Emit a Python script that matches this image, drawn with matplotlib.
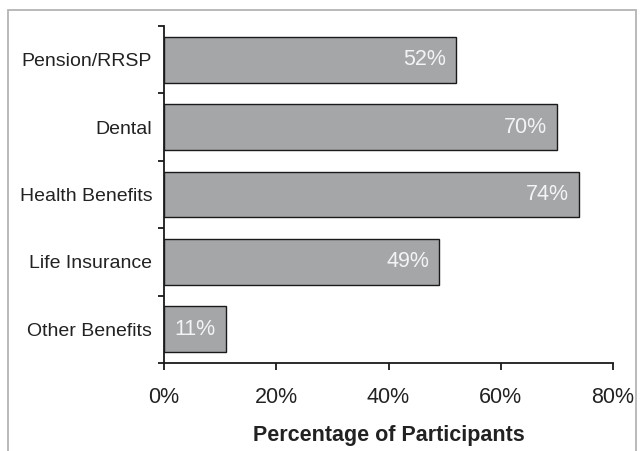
import matplotlib
matplotlib.use("Agg")
import matplotlib.pyplot as plt
from matplotlib.patches import Rectangle

plt.rcParams['font.family'] = ['Liberation Sans', 'DejaVu Sans']

categories = ["Pension/RRSP", "Dental", "Health Benefits", "Life Insurance", "Other Benefits"]
values = [52, 70, 74, 49, 11]
xticks = [0, 20, 40, 60, 80]
xticklabels = ["0%", "20%", "40%", "60%", "80%"]

text_color = "#222222"
bar_color = "#A4A6A8"

fig = plt.figure(figsize=(6.41, 4.51), dpi=100)

# outer frame around the chart area (open at the bottom)
frame = Rectangle((8 / 641, -0.1), (636 - 8) / 641, (451 - 10) / 451 + 0.1,
                  transform=fig.transFigure, fill=False, edgecolor="#b4b4b4",
                  linewidth=1.3, zorder=0)
fig.patches.append(frame)

ax = fig.add_axes([164 / 641, (451 - 363) / 451, (613 - 164) / 641, (363 - 26) / 451])

y = list(range(len(categories)))
bars = ax.barh(y, values, height=0.68, color=bar_color, edgecolor="#1a1a1a",
               linewidth=1.0, zorder=2)

for rect, v in zip(bars, values):
    ax.annotate(f"{v}%", xy=(v, rect.get_y() + rect.get_height() / 2),
                xytext=(-10, 0), textcoords="offset pixels",
                ha="right", va="center", color="#f4f4f4", fontsize=15.5, zorder=3)

ax.set_xlim(0, 80)
ax.set_ylim(len(categories) - 0.5, -0.5)

ax.set_xticks(xticks)
ax.set_xticklabels(xticklabels)
ax.set_yticks(y)
ax.set_yticklabels(categories)
ax.set_yticks([i - 0.5 for i in range(len(categories) + 1)], minor=True)

ax.tick_params(axis="x", direction="out", length=5, width=1.3, pad=12,
               labelsize=15.5, colors="#1a1a1a", labelcolor=text_color)
ax.tick_params(axis="y", which="major", length=0, pad=8.5, labelsize=14,
               labelcolor=text_color)
ax.tick_params(axis="y", which="minor", direction="out", length=4.5, width=1.3,
               colors="#1a1a1a")

for side in ("top", "right"):
    ax.spines[side].set_visible(False)
for side in ("left", "bottom"):
    ax.spines[side].set_linewidth(1.3)
    ax.spines[side].set_color("#1a1a1a")

ax.set_xlabel("Percentage of Participants", fontsize=15.5, fontweight="bold",
              color=text_color, labelpad=12.5)

fig.savefig("out.png", dpi=100)
